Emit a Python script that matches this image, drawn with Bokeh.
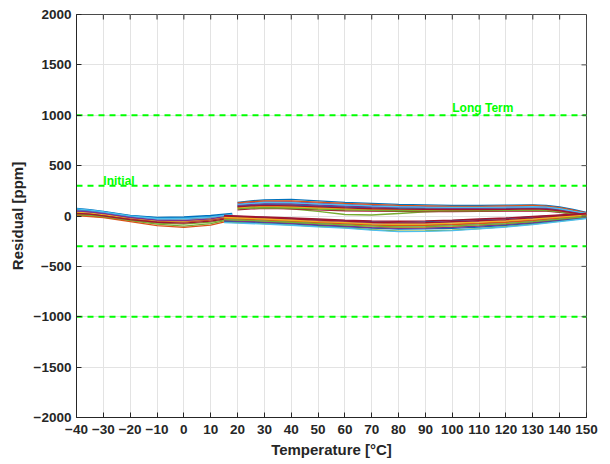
from bokeh.plotting import figure
from bokeh.models import FixedTicker, Range1d
from bokeh.core.properties import value
from bokeh.embed import file_html
from bokeh.resources import INLINE

# ---- data ----
x_ticks = [-40, -30, -20, -10, 0, 10, 20, 30, 40, 50, 60, 70, 80, 90, 100, 110, 120, 130, 140, 150]
y_ticks = [-2000, -1500, -1000, -500, 0, 500, 1000, 1500, 2000]

limit_levels = [1000, 300, -300, -1000]
limit_labels = ["Long Term", "Initial"]
label_x = [100, -30]
label_y = [1075, 350]

temp_a = [-40, -35, -30, -20, -10, 0, 10, 18]
seg_a = [
    [75, 62, 45, 5, -15, -10, 5, 25],
    [60, 50, 35, -5, -30, -30, -15, 10],
    [20, 15, 5, -30, -55, -60, -40, -10],
    [45, 35, 20, -20, -45, -50, -30, 0],
    [10, 0, -10, -45, -80, -100, -75, -30],
    [55, 45, 30, -10, -35, -40, -25, 5],
    [30, 20, 10, -25, -50, -55, -35, -5],
    [65, 55, 40, 0, -20, -20, -5, 20],
    [5, -5, -15, -55, -95, -112, -90, -40],
    [35, 28, 15, -22, -48, -52, -30, 2],
    [50, 40, 25, -15, -40, -45, -28, 8],
    [15, 8, -5, -40, -70, -80, -60, -25],
    [70, 58, 42, 2, -25, -25, -10, 15],
    [25, 18, 2, -35, -62, -70, -50, -18],
]

temp_u = [20, 25, 30, 40, 50, 60, 70, 80, 90, 100, 110, 120, 130, 135, 140, 145, 150]
upper = [
    [135, 150, 160, 165, 150, 135, 125, 115, 110, 105, 105, 108, 110, 105, 90, 65, 35],
    [100, 110, 118, 112, 100, 90, 82, 78, 75, 72, 72, 74, 78, 75, 62, 42, 20],
    [75, 85, 90, 85, 75, 65, 60, 55, 55, 55, 56, 58, 60, 56, 45, 28, 10],
    [120, 132, 140, 140, 128, 115, 105, 98, 92, 88, 88, 90, 95, 90, 76, 52, 28],
    [85, 90, 88, 70, 45, 15, 10, 25, 40, 50, 58, 62, 65, 62, 50, 32, 15],
    [110, 120, 128, 125, 115, 105, 95, 88, 84, 80, 80, 82, 86, 82, 68, 45, 22],
    [60, 70, 75, 70, 60, 52, 48, 45, 44, 44, 45, 48, 52, 48, 36, 20, 5],
    [95, 105, 112, 108, 98, 88, 80, 74, 70, 68, 68, 70, 74, 70, 57, 36, 15],
    [130, 142, 150, 150, 138, 125, 115, 105, 100, 96, 96, 100, 104, 99, 84, 58, 32],
    [80, 90, 96, 92, 82, 72, 66, 62, 60, 58, 58, 60, 64, 60, 48, 28, 8],
    [105, 115, 122, 120, 108, 98, 90, 85, 80, 78, 78, 80, 84, 80, 66, 42, 18],
    [70, 78, 82, 78, 68, 60, 55, 52, 50, 50, 52, 55, 58, 54, 40, 20, 0],
    [115, 125, 134, 132, 120, 110, 100, 92, 88, 85, 85, 88, 92, 88, 72, 48, 25],
    [90, 100, 105, 100, 90, 80, 72, 68, 65, 64, 64, 66, 70, 66, 52, 32, 12],
]

temp_l = [15, 20, 30, 40, 50, 60, 70, 80, 90, 100, 110, 120, 130, 140, 150]
lower = [
    [0, -5, -15, -25, -35, -45, -55, -60, -55, -45, -35, -25, -10, 5, 20],
    [-20, -25, -35, -48, -60, -72, -85, -90, -88, -80, -70, -58, -40, -20, 5],
    [-40, -45, -55, -68, -82, -95, -110, -115, -112, -105, -95, -80, -60, -35, -10],
    [-10, -15, -25, -38, -50, -60, -70, -75, -72, -62, -52, -42, -25, -8, 12],
    [-60, -65, -75, -88, -102, -115, -135, -150, -148, -140, -125, -105, -80, -50, -20],
    [-30, -35, -45, -58, -70, -82, -95, -100, -98, -90, -80, -68, -50, -28, 0],
    [-5, -10, -20, -30, -40, -50, -62, -68, -65, -55, -45, -35, -18, 0, 15],
    [-50, -55, -65, -78, -92, -105, -120, -130, -128, -122, -110, -92, -70, -42, -15],
    [-25, -30, -40, -52, -65, -78, -90, -95, -92, -85, -75, -62, -45, -22, 3],
    [-15, -20, -30, -42, -55, -65, -78, -82, -80, -70, -60, -48, -32, -12, 8],
    [-45, -50, -60, -72, -88, -100, -115, -122, -120, -112, -100, -85, -65, -38, -12],
    [-35, -40, -50, -62, -75, -88, -100, -108, -105, -98, -88, -75, -55, -30, -5],
    [-65, -70, -80, -92, -108, -120, -140, -155, -152, -145, -128, -110, -85, -55, -25],
    [5, 0, -10, -20, -30, -40, -48, -52, -48, -40, -30, -20, -5, 10, 25],
]

colors = ["#0072BD", "#D95319", "#EDB120", "#7E2F8E", "#77AC30", "#4DBEEE", "#A2142F"]

FONT = "Liberation Sans"
AX = "#262626"

x0, x1 = x_ticks[0], x_ticks[-1]
y0, y1 = y_ticks[0], y_ticks[-1]

p = figure(width=600, height=460, output_backend="svg", toolbar_location=None,
           x_range=Range1d(x0, x1), y_range=Range1d(y0, y1),
           min_border_left=76, min_border_right=14, min_border_top=14, min_border_bottom=43)
p.background_fill_color = "white"
p.border_fill_color = "white"
p.outline_line_color = "#4a4a4a"
p.outline_line_width = 1

p.xgrid.ticker = FixedTicker(ticks=x_ticks)
p.ygrid.ticker = FixedTicker(ticks=y_ticks)
p.grid.grid_line_color = "#E3E3E3"
p.grid.grid_line_width = 1

k = 0
for group, temps in ((seg_a, temp_a), (upper, temp_u), (lower, temp_l)):
    for ys in group:
        p.line(temps, ys, line_color=colors[k % 7], line_width=1.3)
        k += 1

for lv in limit_levels:
    p.line([x0, x1], [lv, lv], line_color="#00FF00", line_width=2, line_dash="6 5")

p.text(x=label_x, y=label_y, text=limit_labels, text_font=value(FONT), text_font_style="bold",
       text_color="#00FF00", text_font_size="12px", text_baseline="middle", text_align="left")

# box ticks on the top and right edges (MATLAB "box on" style)
tick_len_y = (y1 - y0) / 403 * 5
tick_len_x = (x1 - x0) / 510 * 5
p.segment(x0=x_ticks, y0=[y1] * len(x_ticks), x1=x_ticks, y1=[y1 - tick_len_y] * len(x_ticks),
          line_color=AX, line_width=1)
p.segment(x0=[x1] * len(y_ticks), y0=y_ticks, x1=[x1 - tick_len_x] * len(y_ticks), y1=y_ticks,
          line_color="#4a4a4a", line_width=1)

for ax in (p.xaxis[0], p.yaxis[0]):
    ax.major_label_text_font = FONT
    ax.major_label_text_font_style = "bold"
    ax.major_label_text_font_size = "13.5px"
    ax.major_label_text_color = AX
    ax.axis_label_text_font = FONT
    ax.axis_label_text_font_style = "bold"
    ax.axis_label_text_font_size = "15px"
    ax.axis_label_text_color = AX
    ax.axis_line_color = AX
    ax.major_tick_line_color = AX
    ax.major_tick_in = 5
    ax.major_tick_out = 0
    ax.minor_tick_in = 0
    ax.minor_tick_out = 0

p.xaxis.ticker = FixedTicker(ticks=x_ticks)
p.yaxis.ticker = FixedTicker(ticks=y_ticks)
p.xaxis.axis_label = "Temperature [°C]"
p.yaxis.axis_label = "Residual [ppm]"
p.xaxis.major_label_standoff = 7
p.yaxis.major_label_standoff = 5
p.xaxis.axis_label_standoff = 4
p.yaxis.axis_label_standoff = 5

open("out.html", "w").write(file_html(p, INLINE))
